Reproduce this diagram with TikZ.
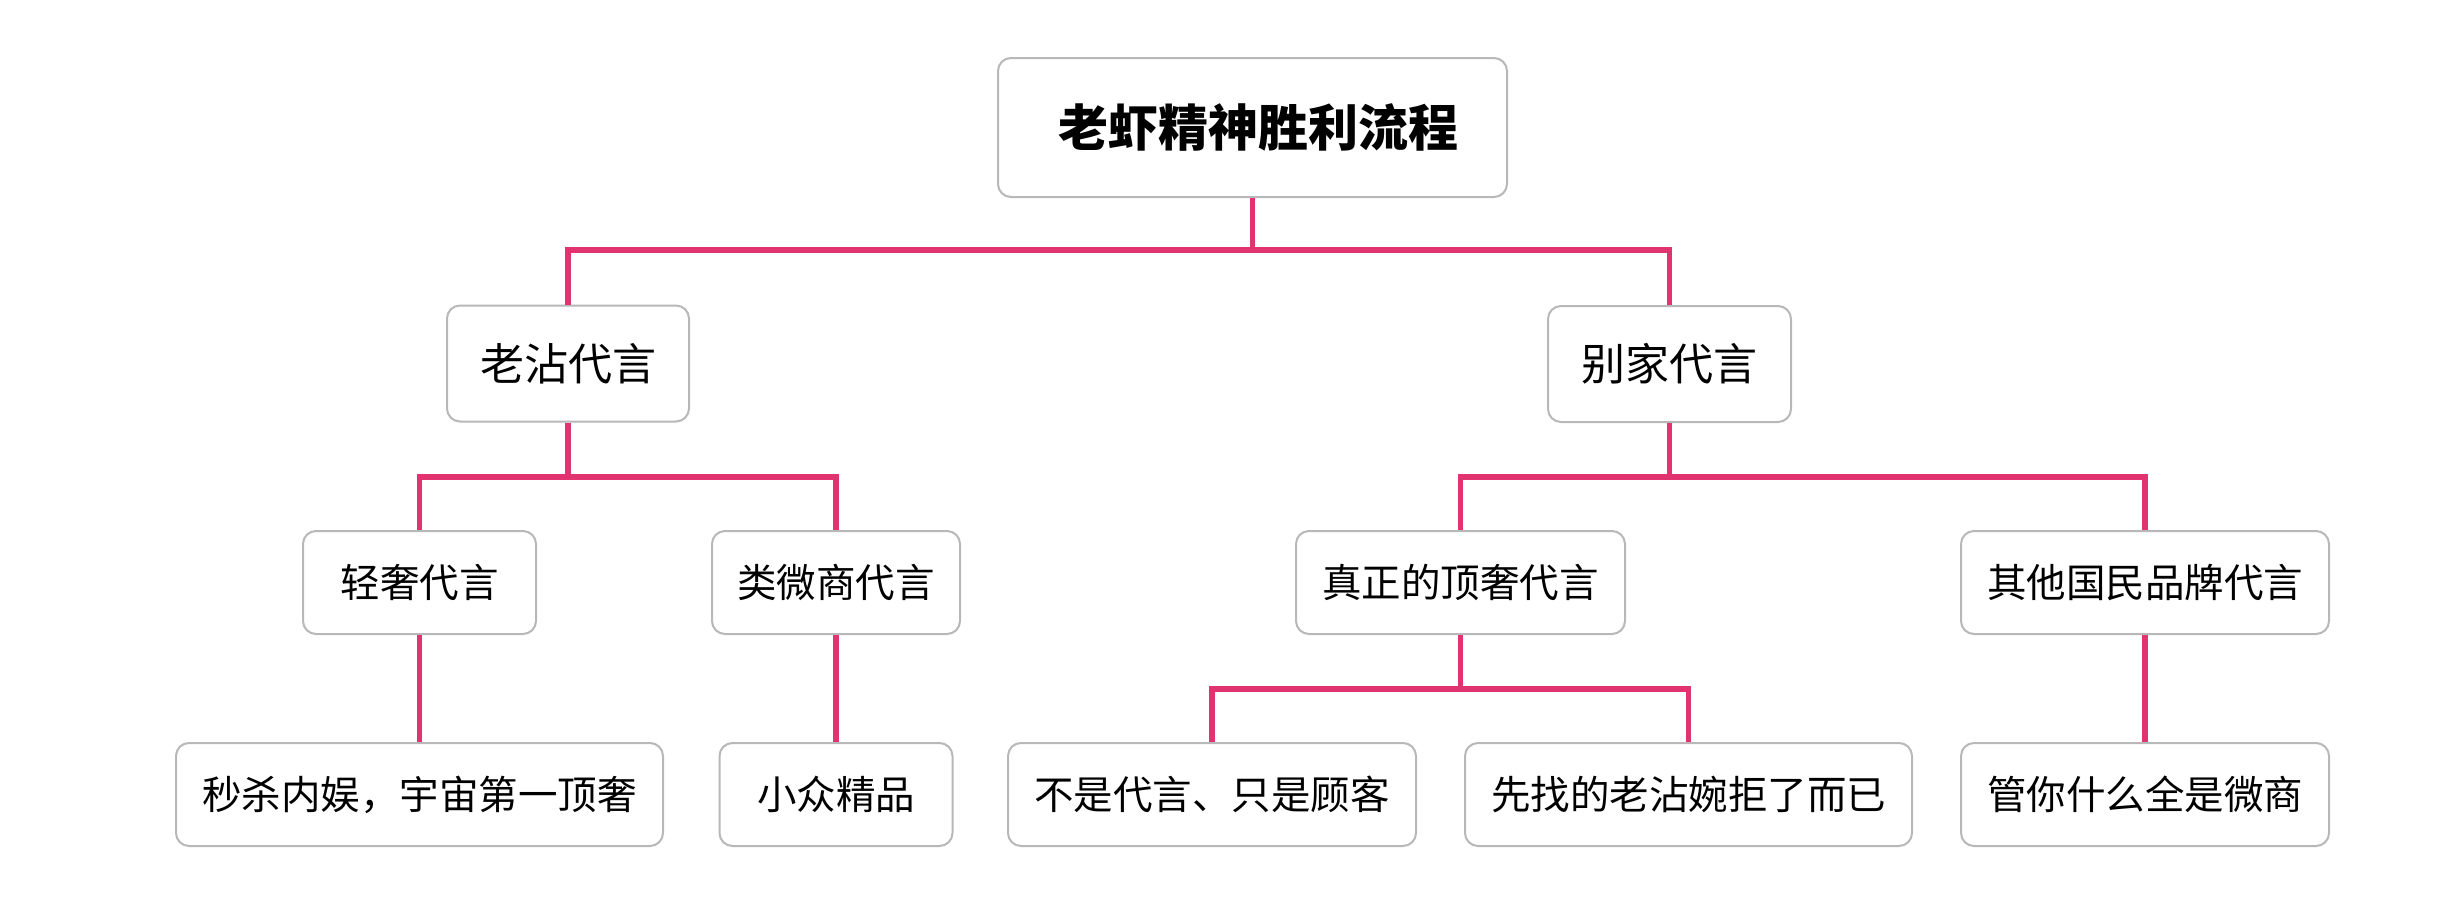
\documentclass[tikz,border=0pt]{standalone}
\usepackage{fontspec}
\setmainfont{Noto Sans CJK SC}
\definecolor{linkpink}{HTML}{E0336F}
\definecolor{boxgray}{HTML}{B8B8B8}
\tikzset{
  box/.style={draw=boxgray, line width=2pt, rounded corners=13pt, fill=white, inner sep=0pt, align=center},
  rootbox/.style={box, minimum width=509pt, minimum height=139pt, font=\fontsize{50}{56}\selectfont\bfseries},
  lvlone/.style={box, minimum height=116pt, font=\fontsize{44}{50}\selectfont},
  lvltwo/.style={box, minimum height=103pt, font=\fontsize{39.5}{45}\selectfont},
  conn/.style={draw=linkpink, line width=5.5pt},
}
\begin{document}
\begin{tikzpicture}[x=1pt,y=-1pt]
\useasboundingbox[fill=white] (0,0) rectangle (2457,905);
\node[rootbox] (root) at (1252.5,127.5) {\hspace*{12pt}老虾精神胜利流程};
\node[lvlone, minimum width=242pt] (lz) at (568,363.5) {老沾代言};
\node[lvlone, minimum width=243pt] (bj) at (1669.5,364) {别家代言};
\node[lvltwo, minimum width=233pt] (qs) at (419.5,582.5) {轻奢代言};
\node[lvltwo, minimum width=248pt] (lw) at (836,582.5) {类微商代言};
\node[lvltwo, minimum width=329pt] (zz) at (1460.5,582.5) {真正的顶奢代言};
\node[lvltwo, minimum width=368pt] (qt) at (2145,582.5) {其他国民品牌代言};
\node[lvltwo, minimum width=487pt] (ms) at (419.5,794.5) {秒杀内娱，宇宙第一顶奢};
\node[lvltwo, minimum width=233pt] (xz) at (836,794.5) {小众精品};
\node[lvltwo, minimum width=408pt] (bs) at (1212,794.5) {不是代言、只是顾客};
\node[lvltwo, minimum width=447pt] (xs) at (1688.5,794.5) {先找的老沾婉拒了而已};
\node[lvltwo, minimum width=368pt] (gn) at (2145,794.5) {管你什么全是微商};
\coordinate (b1) at (0,250);
\coordinate (b2) at (0,477);
\coordinate (b3) at (0,689);
\draw[conn] (root.south) -- (root.south |- b1);
\draw[conn] (lz.north) |- (bj.north |- b1) -- (bj.north);
\draw[conn] (lz.south) -- (lz.south |- b2);
\draw[conn] (qs.north) |- (lw.north |- b2) -- (lw.north);
\draw[conn] (bj.south) -- (bj.south |- b2);
\draw[conn] (zz.north) |- (qt.north |- b2) -- (qt.north);
\draw[conn] (qs.south) -- (ms.north);
\draw[conn] (lw.south) -- (xz.north);
\draw[conn] (zz.south) -- (zz.south |- b3);
\draw[conn] (bs.north) |- (xs.north |- b3) -- (xs.north);
\draw[conn] (qt.south) -- (gn.north);
\end{tikzpicture}
\end{document}
